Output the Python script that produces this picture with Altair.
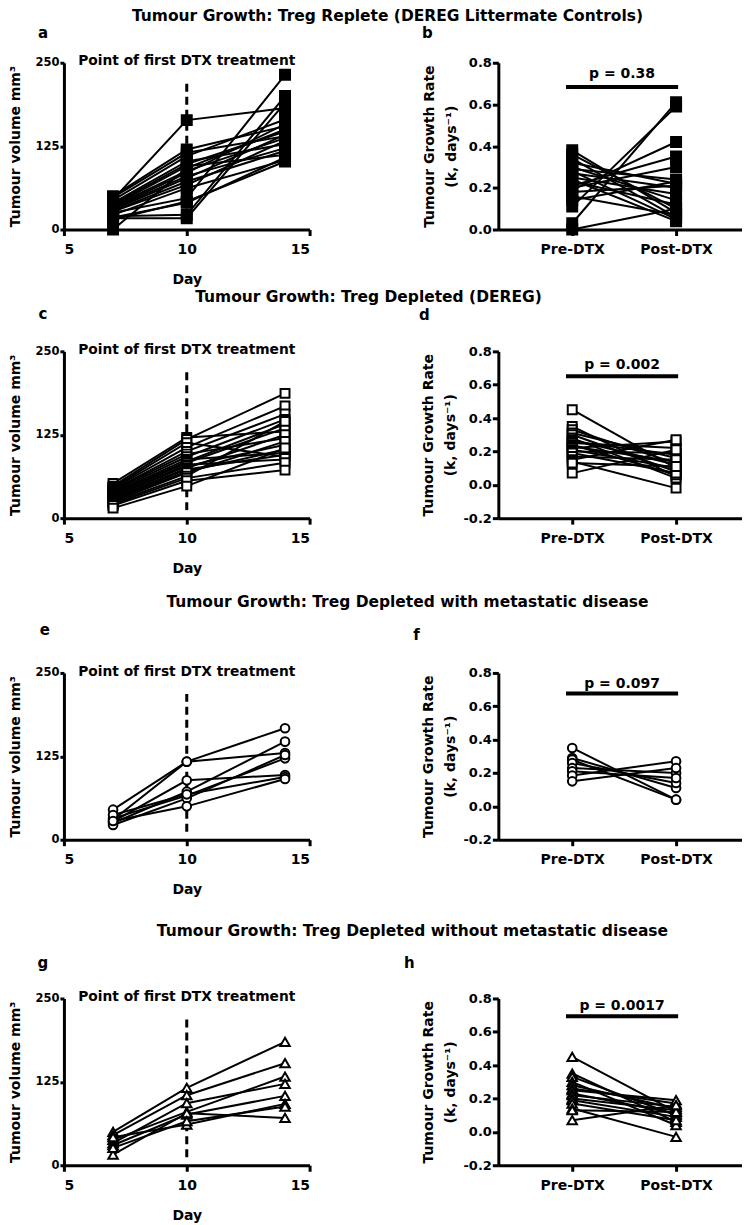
import json
import altair as alt
import pandas as pd

FONT = "DejaVu Sans"

DAYS = [7, 10, 14]
PHASES = ["Pre-DTX", "Post-DTX"]
NOTE = "Point of first DTX treatment"
DTX_DAY = 10
DTX_SPAN = [12, 222]

ROW_TITLES = [
    "Tumour Growth: Treg Replete (DEREG Littermate Controls)",
    "Tumour Growth: Treg Depleted (DEREG)",
    "Tumour Growth: Treg Depleted with metastatic disease",
    "Tumour Growth: Treg Depleted without metastatic disease",
]
P_LABELS = ["p = 0.38", "p = 0.002", "p = 0.097", "p = 0.0017"]
P_BAR_Y = [0.684, 0.651, 0.676, 0.693]
P_TEXT_Y = [0.745, 0.716, 0.735, 0.753]
P_BAR_X = [0.94, 2.02]
P_TEXT_X = 1.48

# a: Treg replete, tumour volume (mm3) at day 7, 10, 14
A_D7 = [45, 25, 17, 20, 0, 50, 48, 44, 40, 38, 36, 35, 33, 32, 30, 28, 27, 22, 15, 18]
A_D10 = [164, 47, 17, 22, 92, 120, 115, 110, 102, 98, 95, 88, 85, 80, 77, 72, 67, 62, 42, 40]
A_D14 = [182, 232, 190, 200, 150, 155, 140, 165, 128, 147, 112, 137, 158, 122, 142, 118, 133, 104, 102, 108]
# b: growth rate k
B_PRE = [0.38, 0.36, 0.34, 0.32, 0.30, 0.29, 0.28, 0.27, 0.25, 0.24, 0.23, 0.21, 0.20, 0.19, 0.18, 0.16, 0.14, 0.11, 0.03, 0.00]
B_POST = [0.08, 0.10, 0.06, 0.22, 0.14, 0.24, 0.05, 0.20, 0.17, 0.04, 0.12, 0.35, 0.30, 0.42, 0.21, 0.07, 0.23, 0.59, 0.61, 0.10]
# c: Treg depleted
C_D7 = [52, 48, 46, 45, 43, 42, 40, 38, 37, 35, 33, 32, 30, 28, 27, 25, 23, 21, 19, 15]
C_D10 = [121, 118, 113, 106, 100, 96, 92, 88, 85, 83, 80, 78, 75, 73, 70, 68, 63, 60, 56, 48]
C_D14 = [130, 187, 92, 168, 156, 120, 148, 98, 141, 135, 88, 110, 125, 95, 103, 115, 145, 83, 72, 105]
# d
D_PRE = [0.45, 0.35, 0.33, 0.31, 0.30, 0.28, 0.27, 0.26, 0.25, 0.24, 0.23, 0.22, 0.21, 0.20, 0.19, 0.17, 0.15, 0.14, 0.13, 0.07]
D_POST = [0.10, 0.05, 0.13, 0.16, 0.08, 0.04, 0.12, 0.18, 0.22, 0.06, 0.14, 0.26, 0.10, 0.19, 0.07, 0.15, 0.27, -0.02, 0.11, 0.21]
# e: with metastatic disease
E_D7 = [45, 30, 27, 25, 32, 22, 37, 28]
E_D10 = [117, 117, 89, 72, 66, 62, 68, 50]
E_D14 = [167, 130, 97, 147, 122, 127, 94, 91]
# f
F_PRE = [0.35, 0.29, 0.28, 0.26, 0.23, 0.21, 0.185, 0.15]
F_POST = [0.04, 0.11, 0.04, 0.14, 0.20, 0.17, 0.27, 0.23]
# g: without metastatic disease
G_D7 = [50, 45, 38, 33, 30, 16, 42, 26]
G_D10 = [116, 105, 80, 93, 76, 78, 61, 66]
G_D14 = [185, 153, 133, 122, 104, 71, 92, 88]
# h
H_PRE = [0.45, 0.35, 0.33, 0.30, 0.28, 0.26, 0.25, 0.23, 0.22, 0.20, 0.19, 0.17, 0.14, 0.13, 0.07]
H_POST = [0.12, 0.06, 0.10, 0.04, 0.14, 0.17, 0.19, 0.11, 0.15, 0.13, 0.09, 0.07, -0.03, 0.12, 0.16]

LW, RW, PH = 246, 244, 167
TXT = dict(font=FONT, fontWeight="bold", color="black")


def label_layer(text, x, y, size):
    return alt.Chart(pd.DataFrame({"t": [text]})).mark_text(
        fontSize=size, align="center", baseline="middle", **TXT
    ).encode(x=alt.value(x), y=alt.value(y), text="t:N")


def volume_panel(d7, d10, d14, shape, fill, size, letter, lpos, title, tpos):
    recs = []
    for i, vals in enumerate(zip(d7, d10, d14)):
        for day, v in zip(DAYS, vals):
            recs.append({"mouse": i, "day": day, "vol": v})
    df = pd.DataFrame(recs)
    x = alt.X("day:Q", scale=alt.Scale(domain=[5, 15], nice=False, zero=False),
              axis=alt.Axis(values=[5, 10, 15], format="d", title="Day",
                            tickSize=6, labelPadding=7, titlePadding=16))
    y = alt.Y("vol:Q", scale=alt.Scale(domain=[0, 250], nice=False),
              axis=alt.Axis(values=[0, 125, 250], title="Tumour volume mm³",
                            labelFontSize=11.5, tickSize=4, labelPadding=1, titlePadding=12))
    dtx = alt.Chart(pd.DataFrame({"day": [DTX_DAY], "vol": [DTX_SPAN[0]], "vol2": [DTX_SPAN[1]]})).mark_rule(
        color="black", strokeWidth=3, strokeDash=[8, 5]
    ).encode(x=x, y=y, y2=alt.Y2("vol2:Q"))
    lines = alt.Chart(df).mark_line(color="black", strokeWidth=2).encode(x=x, y=y, detail="mouse:N")
    pts = alt.Chart(df).mark_point(
        shape=shape, size=size, filled=True, fill=fill, stroke="black", strokeWidth=2, opacity=1
    ).encode(x=x, y=y, detail="mouse:N")
    note = alt.Chart(pd.DataFrame({"day": [DTX_DAY], "vol": [252], "label": [NOTE]})).mark_text(
        fontSize=13.8, align="center", baseline="middle", **TXT
    ).encode(x=x, y=y, text="label:N")
    return alt.layer(
        dtx, lines, pts, note,
        label_layer(letter, lpos[0], lpos[1], 15),
        label_layer(title, tpos[0], tpos[1], 15.5),
    ).properties(width=LW, height=PH)


def rate_panel(pre, post, ymin, shape, fill, size, letter, lpos, idx, tpad):
    recs = []
    for i, vals in enumerate(zip(pre, post)):
        for phase, v in zip(PHASES, vals):
            recs.append({"mouse": i, "pos": PHASES.index(phase) + 1, "k": v})
    df = pd.DataFrame(recs)
    ticks = [round(ymin + 0.2 * j, 1) for j in range(int(round((0.8 - ymin) / 0.2)) + 1)]
    x = alt.X("pos:Q", scale=alt.Scale(domain=[0.2885, 2.635], nice=False, zero=False),
              axis=alt.Axis(values=[1, 2], title=None, tickSize=6, labelPadding=7,
                            labelExpr=json.dumps(PHASES) + "[datum.value - 1]"))
    y = alt.Y("k:Q", scale=alt.Scale(domain=[ymin, 0.8], nice=False, zero=False),
              axis=alt.Axis(values=ticks, title=["Tumour Growth Rate", "(k, days⁻¹)"],
                            titleLineHeight=22, labelFontSize=13, tickSize=6, labelPadding=1,
                            titlePadding=tpad,
                            labelExpr="datum.value < -0.001 ? '-' + format(-datum.value, '.1f') : format(abs(datum.value), '.1f')"))
    lines = alt.Chart(df).mark_line(color="black", strokeWidth=2).encode(x=x, y=y, detail="mouse:N")
    pts = alt.Chart(df).mark_point(
        shape=shape, size=size, filled=True, fill=fill, stroke="black", strokeWidth=2, opacity=1
    ).encode(x=x, y=y, detail="mouse:N")
    bar = alt.Chart(pd.DataFrame({"pos": [P_BAR_X[0]], "pos2": [P_BAR_X[1]], "k": [P_BAR_Y[idx]]})).mark_rule(
        color="black", strokeWidth=4
    ).encode(x=x, x2=alt.X2("pos2:Q"), y=y)
    ptxt = alt.Chart(pd.DataFrame({"pos": [P_TEXT_X], "k": [P_TEXT_Y[idx]], "t": [P_LABELS[idx]]})).mark_text(
        fontSize=14, align="center", baseline="middle", **TXT
    ).encode(x=x, y=y, text="t:N")
    return alt.layer(lines, pts, bar, ptxt, label_layer(letter, lpos[0], lpos[1], 15)).properties(
        width=RW, height=PH)


pa = volume_panel(A_D7, A_D10, A_D14, "square", "black", 100, "a", (-21, -30), ROW_TITLES[0], (324, -47))
pb = rate_panel(B_PRE, B_POST, 0.0, "square", "black", 100, "b", (-71, -30), 0, 10)
pc = volume_panel(C_D7, C_D10, C_D14, "square", "white", 80, "c", (-21, -37), ROW_TITLES[1], (305, -54))
pd_ = rate_panel(D_PRE, D_POST, -0.2, "square", "white", 80, "d", (-74, -36), 1, 5)
pe = volume_panel(E_D7, E_D10, E_D14, "circle", "white", 75, "e", (-19, -43), ROW_TITLES[2], (344, -71))
pf = rate_panel(F_PRE, F_POST, -0.2, "circle", "white", 75, "f", (-82, -38), 2, 5)
pg = volume_panel(G_D7, G_D10, G_D14, "triangle-up", "white", 90, "g", (-21, -36), ROW_TITLES[3], (349, -68))
ph = rate_panel(H_PRE, H_POST, -0.2, "triangle-up", "white", 90, "h", (-89, -36), 3, 5)

GAP = 189
row1 = alt.hconcat(pa, pb, spacing=GAP, bounds="flush")
row2 = alt.hconcat(pc, pd_, spacing=GAP, bounds="flush")
row3 = alt.hconcat(pe, pf, spacing=GAP, bounds="flush")
row4 = alt.hconcat(pg, ph, spacing=GAP, bounds="flush")

top = alt.vconcat(row1, row2, spacing=4)
bottom = alt.vconcat(row3, row4, spacing=27)
chart = alt.vconcat(top, bottom, spacing=20).properties(
    padding={"left": 0, "top": 0, "right": 0, "bottom": 0}
).configure(font=FONT).configure_view(stroke=None).configure_axis(
    grid=False, domainColor="black", domainWidth=3, tickColor="black", tickWidth=3,
    labelFont=FONT, labelFontWeight="bold", labelFontSize=14, labelColor="black",
    titleFont=FONT, titleFontWeight="bold", titleFontSize=14, titleColor="black",
)

chart.save("out.html", embed_options={"renderer": "svg", "actions": False})
